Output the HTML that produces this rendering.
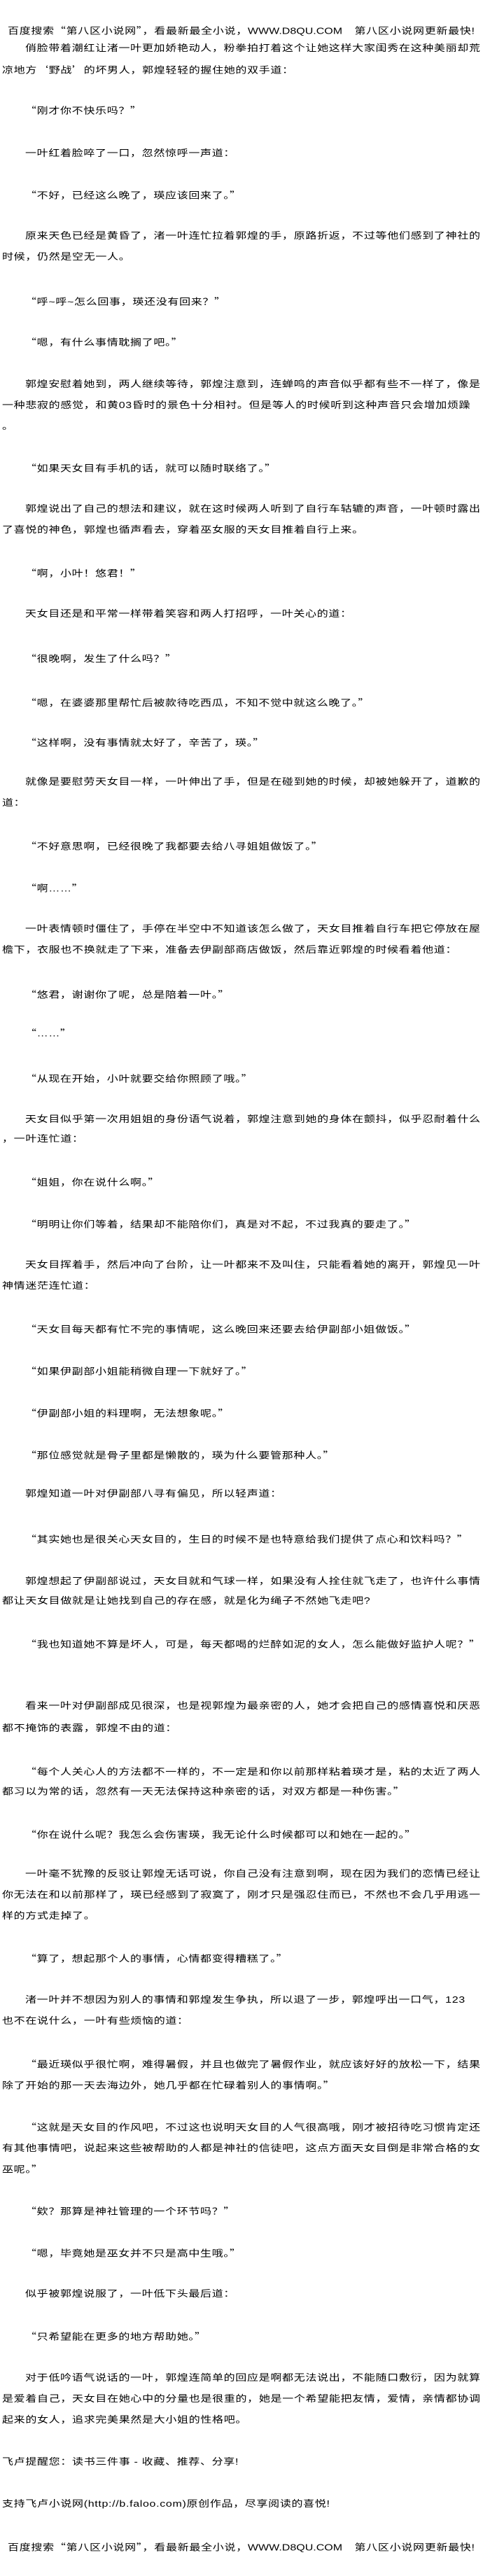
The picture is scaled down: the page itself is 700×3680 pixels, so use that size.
<!DOCTYPE html>
<html><head><meta charset="utf-8">
<style>
html,body{margin:0;padding:0;background:#fff;}
body{width:700px;height:3680px;position:relative;overflow:hidden;
font-family:"Liberation Sans","Noto Sans CJK SC","WenQuanYi Zen Hei",sans-serif;color:#000;}
.l{position:absolute;left:36px;white-space:nowrap;font-size:16px;line-height:20px;height:20px;
letter-spacing:0.67px;transform:scaleY(0.8);transform-origin:50% 50%;}
.c{left:3px;}
.j{text-align:justify;text-align-last:justify;letter-spacing:0;width:650px;}
.c.j{width:683px;}
.h{left:11px;width:667px;text-align:justify;text-align-last:justify;letter-spacing:0;}
.q{font-family:"Noto Sans CJK SC","WenQuanYi Zen Hei",sans-serif;}
</style></head><body>
<div class="l h" style="top:33px">百度搜索<span class="q">“</span>第八区小说网<span class="q">”</span>，看最新最全小说，WWW.D8QU.COM　第八区小说网更新最快!</div>
<div class="l j" style="top:60px">俏脸带着潮红让渚一叶更加娇艳动人，粉拳拍打着这个让她这样大家闺秀在这种美丽却荒</div>
<div class="l c" style="top:89px">凉地方<span class="q">‘</span>野战<span class="q">’</span>的坏男人，郭煌轻轻的握住她的双手道：</div>
<div class="l" style="top:147px"><span class="q">“</span>刚才你不快乐吗？<span class="q">”</span></div>
<div class="l" style="top:210px">一叶红着脸啐了一口，忽然惊呼一声道：</div>
<div class="l" style="top:268px"><span class="q">“</span>不好，已经这么晚了，瑛应该回来了。<span class="q">”</span></div>
<div class="l j" style="top:328px">原来天色已经是黄昏了，渚一叶连忙拉着郭煌的手，原路折返，不过等他们感到了神社的</div>
<div class="l c" style="top:358px">时候，仍然是空无一人。</div>
<div class="l" style="top:420px"><span class="q">“</span>呼~呼~怎么回事，瑛还没有回来？<span class="q">”</span></div>
<div class="l" style="top:478px"><span class="q">“</span>嗯，有什么事情耽搁了吧。<span class="q">”</span></div>
<div class="l j" style="top:540px">郭煌安慰着她到，两人继续等待，郭煌注意到，连蝉鸣的声音似乎都有些不一样了，像是</div>
<div class="l c" style="top:570px">一种悲寂的感觉，和黄03昏时的景色十分相衬。但是等人的时候听到这种声音只会增加烦躁</div>
<div class="l c" style="top:600px">。</div>
<div class="l" style="top:658px"><span class="q">“</span>如果天女目有手机的话，就可以随时联络了。<span class="q">”</span></div>
<div class="l j" style="top:718px">郭煌说出了自己的想法和建议，就在这时候两人听到了自行车轱辘的声音，一叶顿时露出</div>
<div class="l c" style="top:748px">了喜悦的神色，郭煌也循声看去，穿着巫女服的天女目推着自行上来。</div>
<div class="l" style="top:808px"><span class="q">“</span>啊，小叶！悠君！<span class="q">”</span></div>
<div class="l" style="top:868px">天女目还是和平常一样带着笑容和两人打招呼，一叶关心的道：</div>
<div class="l" style="top:930px"><span class="q">“</span>很晚啊，发生了什么吗？<span class="q">”</span></div>
<div class="l" style="top:993px"><span class="q">“</span>嗯，在婆婆那里帮忙后被款待吃西瓜，不知不觉中就这么晚了。<span class="q">”</span></div>
<div class="l" style="top:1050px"><span class="q">“</span>这样啊，没有事情就太好了，辛苦了，瑛。<span class="q">”</span></div>
<div class="l j" style="top:1108px">就像是要慰劳天女目一样，一叶伸出了手，但是在碰到她的时候，却被她躲开了，道歉的</div>
<div class="l c" style="top:1138px">道：</div>
<div class="l" style="top:1198px"><span class="q">“</span>不好意思啊，已经很晚了我都要去给八寻姐姐做饭了。<span class="q">”</span></div>
<div class="l" style="top:1258px"><span class="q">“</span>啊……<span class="q">”</span></div>
<div class="l j" style="top:1318px">一叶表情顿时僵住了，手停在半空中不知道该怎么做了，天女目推着自行车把它停放在屋</div>
<div class="l c" style="top:1348px">檐下，衣服也不换就走了下来，准备去伊副部商店做饭，然后靠近郭煌的时候看着他道：</div>
<div class="l" style="top:1410px"><span class="q">“</span>悠君，谢谢你了呢，总是陪着一叶。<span class="q">”</span></div>
<div class="l" style="top:1465px"><span class="q">“</span>……<span class="q">”</span></div>
<div class="l" style="top:1530px"><span class="q">“</span>从现在开始，小叶就要交给你照顾了哦。<span class="q">”</span></div>
<div class="l j" style="top:1590px">天女目似乎第一次用姐姐的身份语气说着，郭煌注意到她的身体在颤抖，似乎忍耐着什么</div>
<div class="l c" style="top:1618px">，一叶连忙道：</div>
<div class="l" style="top:1678px"><span class="q">“</span>姐姐，你在说什么啊。<span class="q">”</span></div>
<div class="l" style="top:1738px"><span class="q">“</span>明明让你们等着，结果却不能陪你们，真是对不起，不过我真的要走了。<span class="q">”</span></div>
<div class="l j" style="top:1798px">天女目挥着手，然后冲向了台阶，让一叶都来不及叫住，只能看着她的离开，郭煌见一叶</div>
<div class="l c" style="top:1828px">神情迷茫连忙道：</div>
<div class="l" style="top:1888px"><span class="q">“</span>天女目每天都有忙不完的事情呢，这么晚回来还要去给伊副部小姐做饭。<span class="q">”</span></div>
<div class="l" style="top:1948px"><span class="q">“</span>如果伊副部小姐能稍微自理一下就好了。<span class="q">”</span></div>
<div class="l" style="top:2008px"><span class="q">“</span>伊副部小姐的料理啊，无法想象呢。<span class="q">”</span></div>
<div class="l" style="top:2068px"><span class="q">“</span>那位感觉就是骨子里都是懒散的，瑛为什么要管那种人。<span class="q">”</span></div>
<div class="l" style="top:2125px">郭煌知道一叶对伊副部八寻有偏见，所以轻声道：</div>
<div class="l" style="top:2188px"><span class="q">“</span>其实她也是很关心天女目的，生日的时候不是也特意给我们提供了点心和饮料吗？<span class="q">”</span></div>
<div class="l j" style="top:2250px">郭煌想起了伊副部说过，天女目就和气球一样，如果没有人拴住就飞走了，也许什么事情</div>
<div class="l c" style="top:2278px">都让天女目做就是让她找到自己的存在感，就是化为绳子不然她飞走吧?</div>
<div class="l j" style="top:2338px"><span class="q">“</span>我也知道她不算是坏人，可是，每天都喝的烂醉如泥的女人，怎么能做好监护人呢？<span class="q">”</span></div>
<div class="l j" style="top:2428px">看来一叶对伊副部成见很深，也是视郭煌为最亲密的人，她才会把自己的感情喜悦和厌恶</div>
<div class="l c" style="top:2460px">都不掩饰的表露，郭煌不由的道：</div>
<div class="l j" style="top:2520px"><span class="q">“</span>每个人关心人的方法都不一样的，不一定是和你以前那样粘着瑛才是，粘的太近了两人</div>
<div class="l c" style="top:2548px">都习以为常的话，忽然有一天无法保持这种亲密的话，对双方都是一种伤害。<span class="q">”</span></div>
<div class="l" style="top:2610px"><span class="q">“</span>你在说什么呢？我怎么会伤害瑛，我无论什么时候都可以和她在一起的。<span class="q">”</span></div>
<div class="l j" style="top:2668px">一叶毫不犹豫的反驳让郭煌无话可说，你自己没有注意到啊，现在因为我们的恋情已经让</div>
<div class="l c j" style="top:2698px">你无法在和以前那样了，瑛已经感到了寂寞了，刚才只是强忍住而已，不然也不会几乎用逃一</div>
<div class="l c" style="top:2728px">样的方式走掉了。</div>
<div class="l" style="top:2787px"><span class="q">“</span>算了，想起那个人的事情，心情都变得糟糕了。<span class="q">”</span></div>
<div class="l" style="top:2848px">渚一叶并不想因为别人的事情和郭煌发生争执，所以退了一步，郭煌呼出一口气，123</div>
<div class="l c" style="top:2878px">也不在说什么，一叶有些烦恼的道：</div>
<div class="l j" style="top:2938px"><span class="q">“</span>最近瑛似乎很忙啊，难得暑假，并且也做完了暑假作业，就应该好好的放松一下，结果</div>
<div class="l c" style="top:2968px">除了开始的那一天去海边外，她几乎都在忙碌着别人的事情啊。<span class="q">”</span></div>
<div class="l j" style="top:3028px"><span class="q">“</span>这就是天女目的作风吧，不过这也说明天女目的人气很高哦，刚才被招待吃习惯肯定还</div>
<div class="l c j" style="top:3060px">有其他事情吧，说起来这些被帮助的人都是神社的信徒吧，这点方面天女目倒是非常合格的女</div>
<div class="l c" style="top:3088px">巫呢。<span class="q">”</span></div>
<div class="l" style="top:3148px"><span class="q">“</span>欸？那算是神社管理的一个环节吗？<span class="q">”</span></div>
<div class="l" style="top:3208px"><span class="q">“</span>嗯，毕竟她是巫女并不只是高中生哦。<span class="q">”</span></div>
<div class="l" style="top:3268px">似乎被郭煌说服了，一叶低下头最后道：</div>
<div class="l" style="top:3327px"><span class="q">“</span>只希望能在更多的地方帮助她。<span class="q">”</span></div>
<div class="l j" style="top:3388px">对于低吟语气说话的一叶，郭煌连简单的回应是啊都无法说出，不能随口敷衍，因为就算</div>
<div class="l c j" style="top:3418px">是爱着自己，天女目在她心中的分量也是很重的，她是一个希望能把友情，爱情，亲情都协调</div>
<div class="l c" style="top:3448px">起来的女人，追求完美果然是大小姐的性格吧。</div>
<div class="l c" style="top:3508px">飞卢提醒您：读书三件事 - 收藏、推荐、分享!</div>
<div class="l c" style="top:3568px">支持飞卢小说网(http://b.faloo.com)原创作品，尽享阅读的喜悦!</div>
<div class="l h" style="top:3628px">百度搜索<span class="q">“</span>第八区小说网<span class="q">”</span>，看最新最全小说，WWW.D8QU.COM　第八区小说网更新最快!</div>
</body></html>
